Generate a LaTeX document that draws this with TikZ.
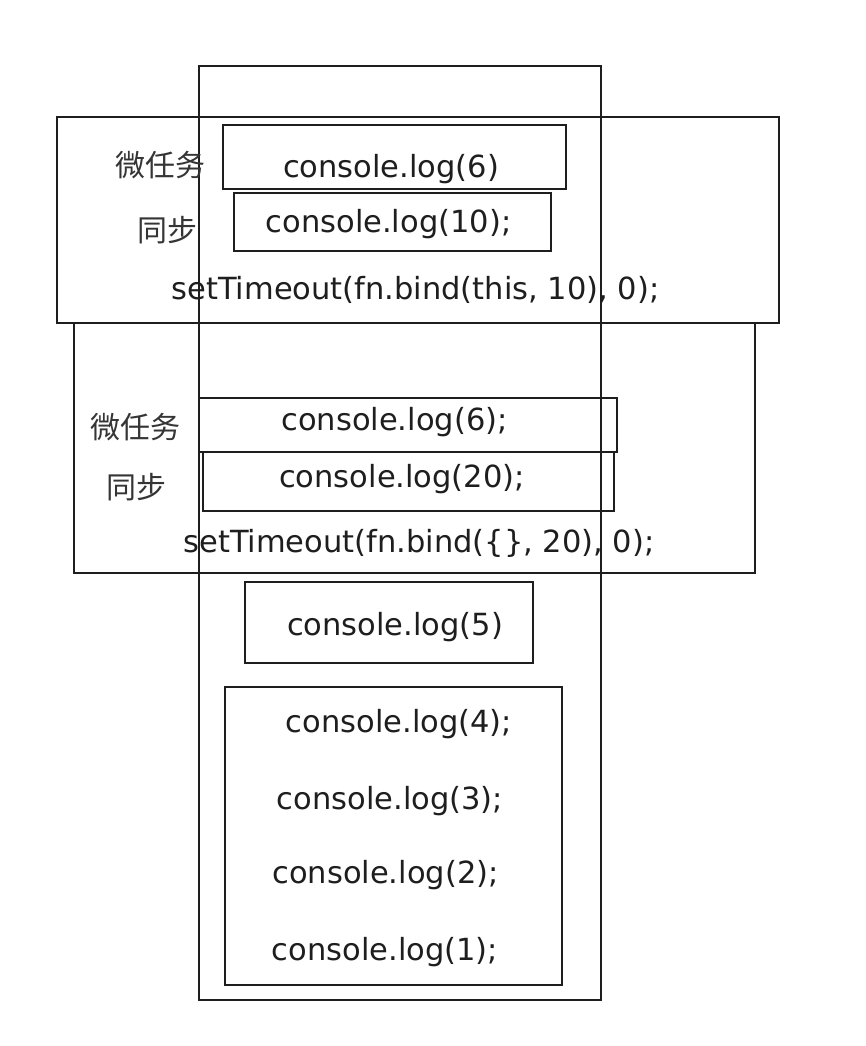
\documentclass[tikz,border=0pt]{standalone}
\usepackage{fontspec}
\setmainfont{DejaVu Sans}
\newfontfamily\cjk{Noto Sans CJK SC}
\definecolor{ink}{HTML}{1E1E1E}
\begin{document}
\begin{tikzpicture}[x=1pt,y=-1pt,
  frame/.style={draw=ink, line width=2.1pt, rectangle, inner sep=0pt},
  code/.style={font=\fontsize{30.5}{34}\selectfont, text=ink, inner sep=0pt, anchor=base},
  tag/.style={font=\cjk\fontsize{30}{34}\selectfont, text=ink!90, inner sep=0pt}]
\useasboundingbox[fill=white] (0,0) rectangle (866,1046);

% call stack column
\node[frame, minimum width=402, minimum height=934] (stack) at (400,533) {};

% first round: setTimeout(fn.bind(this, 10), 0)
\node[frame, minimum width=722, minimum height=206] (round1) at (418,220) {};
\node[frame, minimum width=343, minimum height=64] (micro1) at (394.5,157) {};
\node[frame, minimum width=317, minimum height=58] (sync1) at (392.5,222) {};
\node[tag] (micro1tag) at (160.5,165) {微任务};
\node[tag] (sync1tag) at (167,230) {同步};
\node[code] (micro1txt) at (391,177) {console.log(6)};
\node[code] (sync1txt) at (388.5,232) {console.log(10);};
\node[code] (timer1) at (415.5,299) {setTimeout(fn.bind(this, 10), 0);};

% second round: setTimeout(fn.bind({}, 20), 0)
\node[frame, minimum width=681, minimum height=250] (round2) at (414.5,448) {};
\node[frame, minimum width=418, minimum height=54] (micro2) at (408,425) {};
\node[frame, minimum width=411, minimum height=59] (sync2) at (408.5,481.5) {};
\node[tag] (micro2tag) at (135,427.5) {微任务};
\node[tag] (sync2tag) at (136.5,487.5) {同步};
\node[code] (micro2txt) at (394.5,430) {console.log(6);};
\node[code] (sync2txt) at (402,487) {console.log(20);};
\node[code] (timer2) at (419,552) {setTimeout(fn.bind(\{\}, 20), 0);};

% remaining frames
\node[frame, minimum width=288, minimum height=81] (log5) at (389,622.5) {};
\node[code] (log5txt) at (395,635) {console.log(5)};
\node[frame, minimum width=337, minimum height=298] (tail) at (393.5,836) {};
\node[code] (log4) at (399,732) {console.log(4);};
\node[code] (log3) at (390,809) {console.log(3);};
\node[code] (log2) at (385.5,883) {console.log(2);};
\node[code] (log1) at (385,960) {console.log(1);};
\end{tikzpicture}
\end{document}
